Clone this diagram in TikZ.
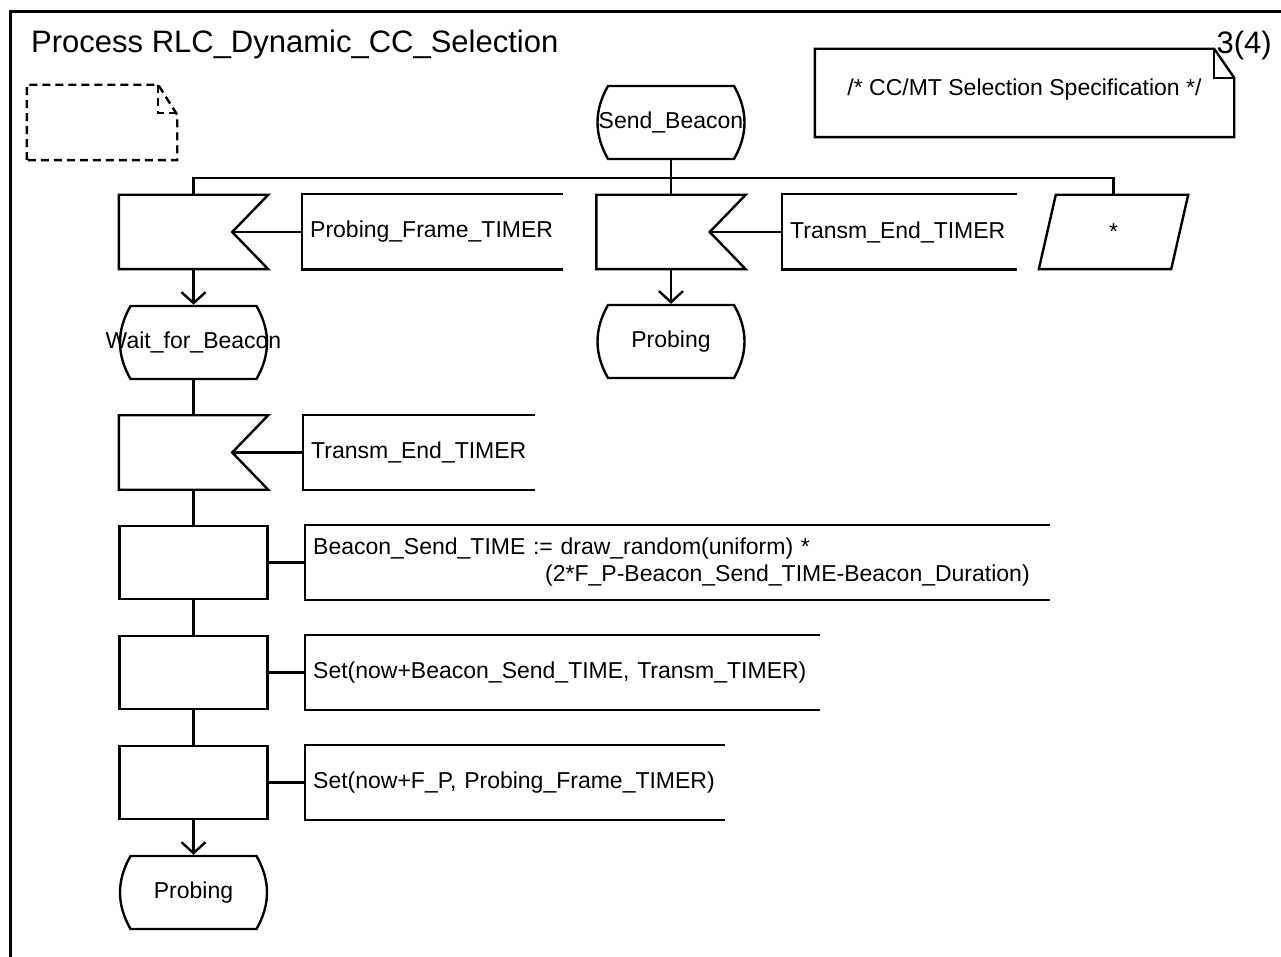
\documentclass[tikz,border=0pt]{standalone}
\usepackage{fontspec}
\setmainfont{Liberation Sans}
\usetikzlibrary{arrows.meta, calc}

\begin{document}
\begin{tikzpicture}[x=0.5pt, y=-0.5pt, line width=1.2pt,
            txt/.style={font=\fontsize{11.5}{13.5}\selectfont},
            stbox/.style={txt, minimum width=74pt, minimum height=36.5pt, inner sep=0pt},
            inbox/.style={minimum width=73.5pt, minimum height=36pt, inner sep=0pt},
            taskbox/.style={draw, minimum width=74pt, minimum height=36.5pt, inner sep=0pt},
            lblbox/.style={txt, anchor=west, minimum height=36.5pt, inner xsep=3.5pt, align=left},
            flow/.style={-{Straight Barb[length=5.5pt, width=12pt]}}]
            \useasboundingbox (0,0) rectangle (1281,957);
            % frame and heading
            \draw[line width=1.5pt] (10,975) -- (10,12) -- (1295,12);
            \node[anchor=base west, inner sep=0pt, font=\fontsize{15.5}{18}\selectfont] (title) at (30,53) {Process RLC\_Dynamic\_CC\_Selection};
            \node[anchor=base east, inner sep=0pt, font=\fontsize{15.5}{18}\selectfont] (page) at (1273,54) {3(4)};
            % text symbol and comment
            \node[minimum width=74pt, minimum height=36.5pt, inner sep=0pt] (txtsym) at (102,122.5) {};
            \draw[dash pattern=on 4pt off 2.5pt] (txtsym.south west) -- (txtsym.north west) -- ([xshift=-9.5pt]txtsym.north east) -- ([yshift=-15pt]txtsym.north east) -- (txtsym.south east) -- cycle;
            \draw[dash pattern=on 4pt off 2.5pt] ([xshift=-9.5pt]txtsym.north east) -- ([xshift=-9.5pt, yshift=-14pt]txtsym.north east) -- ([yshift=-14pt]txtsym.north east);
            \node[txt, minimum width=208.5pt, minimum height=43pt, inner sep=0pt, text depth=6pt] (spec) at (1024.5,93) {/* CC/MT Selection Specification */};
            \draw (spec.south west) -- (spec.north west) -- ([xshift=-10pt]spec.north east) -- ([yshift=-14.5pt]spec.north east) -- (spec.south east) -- cycle;
            \draw ([xshift=-10pt]spec.north east) -- ([xshift=-10pt, yshift=-14.5pt]spec.north east) -- ([yshift=-14.5pt]spec.north east);
            % states
            \node[stbox] (sbeacon) at (671,122.5) {Send\_Beacon};
            \node[stbox] (probing) at (671,341.5) {Probing};
            \node[stbox] (waitb) at (193.5,342.5) {Wait\_for\_Beacon};
            \node[stbox] (probing2) at (193.5,892.5) {Probing};
            \foreach \n in {sbeacon,probing,waitb,probing2}
                \draw ($(\n.center)+(-63,-36.5)$) -- ($(\n.center)+(63,-36.5)$)
                    .. controls ($(\n.center)+(77,-12)$) and ($(\n.center)+(77,12)$) .. ($(\n.center)+(63,36.5)$)
                    -- ($(\n.center)+(-63,36.5)$)
                    .. controls ($(\n.center)+(-77,12)$) and ($(\n.center)+(-77,-12)$) .. ($(\n.center)+(-63,-36.5)$) -- cycle;
            % inputs
            \node[inbox] (inpf) at (193.5,232) {};
            \node[inbox] (inte) at (671,232) {};
            \node[inbox] (inte2) at (193.5,452.5) {};
            \foreach \n in {inpf,inte,inte2}
                \draw (\n.north west) -- (\n.north east) -- ([xshift=-18pt]\n.east) -- (\n.south east) -- (\n.south west) -- cycle;
            \node[txt, minimum width=65pt, minimum height=36pt, inner sep=0pt] (anyin) at (1113.5,232) {*};
            \draw ([xshift=4.25pt]anyin.north west) -- ([xshift=4.25pt]anyin.north east) -- ([xshift=-4.25pt]anyin.south east) -- ([xshift=-4.25pt]anyin.south west) -- cycle;
            % tasks
            \node[taskbox] (calcbt) at (193.5,562.5) {};
            \node[taskbox] (settt) at (193.5,672.5) {};
            \node[taskbox] (setpf) at (193.5,782.5) {};
            % side texts
            \node[lblbox, text width=122.5pt] (lpf) at (302,232) {Probing\_Frame\_TIMER};
            \node[lblbox, text width=109.5pt] (lte) at (782,232) {Transm\_End\_TIMER};
            \node[lblbox, text width=108pt] (lte2) at (303,452.5) {Transm\_End\_TIMER};
            \node[lblbox, text width=364.5pt] (lcalc) at (305,562.5) {Beacon\_Send\_TIME := draw\_random(uniform) *\\
                \hspace*{116pt}\mbox{(2*F\_P-Beacon\_Send\_TIME-Beacon\_Duration)}};
            \node[lblbox, text width=249.5pt] (lsett) at (305,672.5) {Set(now+Beacon\_Send\_TIME, Transm\_TIMER)};
            \node[lblbox, text width=202pt] (lsetp) at (305,782.5) {Set(now+F\_P, Probing\_Frame\_TIMER)};
            \foreach \n in {lpf,lte,lte2,lcalc,lsett,lsetp}
                \draw (\n.north east) -- (\n.north west) -- (\n.south west) -- (\n.south east);
            % flow lines
            \coordinate (bus) at (671,178);
            \draw (inpf.north) |- (bus) -| (anyin.north);
            \draw (sbeacon.south) -- (inte.north);
            \draw[flow] (inpf.south) -- (waitb.north);
            \draw[flow] (inte.south) -- (probing.north);
            \draw (waitb.south) -- (inte2.north);
            \draw (inte2.south) -- (calcbt.north);
            \draw (calcbt.south) -- (settt.north);
            \draw (settt.south) -- (setpf.north);
            \draw[flow] (setpf.south) -- (probing2.north);
            \draw ([xshift=-18pt]inpf.east) -- (lpf.west);
            \draw ([xshift=-18pt]inte.east) -- (lte.west);
            \draw ([xshift=-18pt]inte2.east) -- (lte2.west);
            \draw (calcbt.east) -- (lcalc.west);
            \draw (settt.east) -- (lsett.west);
            \draw (setpf.east) -- (lsetp.west);
        \end{tikzpicture}
\end{document}
